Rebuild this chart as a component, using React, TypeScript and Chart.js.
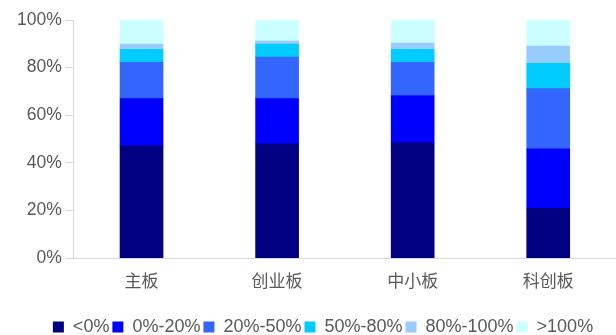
import React, { useEffect, useRef } from "react";
import { Chart, registerables } from "chart.js";

Chart.register(...registerables);

// Boards on the x axis
const boards = ["主板", "创业板", "中小板", "科创板"];

// Share of companies (%) in each growth bucket, per board
const bucketLabels = ["<0%", "0%-20%", "20%-50%", "50%-80%", "80%-100%", ">100%"];
const below0 = [47.1, 48.0, 48.4, 20.9];
const g0to20 = [19.9, 19.0, 19.9, 25.0];
const g20to50 = [15.2, 17.4, 13.9, 25.3];
const g50to80 = [5.5, 5.5, 5.5, 10.6];
const g80to100 = [2.2, 1.2, 2.6, 7.2];
const above100 = [10.1, 8.9, 9.7, 11.0];

const bucketColors = ["#000080", "#0000FF", "#3366FF", "#00CCFF", "#99CCFF", "#CCFFFF"];

const yTicks = [0, 20, 40, 60, 80, 100];

// Nudges the legend row sideways after layout
const legendShift = {
  id: "legendShift",
  afterLayout(chart: any) {
    const lg = chart.legend;
    if (!lg) return;
    lg.left += 8.5;
    lg.right += 8.5;
  },
};

export default function App() {
  const canvasRef = useRef<HTMLCanvasElement | null>(null);

  useEffect(() => {
    const canvas = canvasRef.current;
    if (!canvas) return;
    const series = [below0, g0to20, g20to50, g50to80, g80to100, above100];
    const chart = new Chart(canvas, {
      type: "bar",
      data: {
        labels: boards,
        datasets: series.map((values, i) => ({
          label: bucketLabels[i],
          data: values,
          backgroundColor: bucketColors[i],
          borderWidth: 0,
          barThickness: 43,
        })),
      },
      plugins: [legendShift],
      options: {
        responsive: false,
        animation: false,
        layout: { padding: { left: 13, right: 0, top: 20, bottom: -11 } },
        plugins: {
          tooltip: { enabled: false },
          legend: {
            position: "bottom",
            labels: {
              boxWidth: 11,
              boxHeight: 11,
              padding: 3,
              color: "#595959",
              font: { family: "'Liberation Sans', Arial, sans-serif", size: 18 },
            },
          },
        },
        scales: {
          x: {
            stacked: true,
            grid: { display: false, drawTicks: false },
            border: { display: true, color: "#d9d9d9", width: 1 },
            ticks: {
              padding: 12,
              color: "#595959",
              font: { family: "'Noto Sans CJK SC', sans-serif", size: 17 },
            },
            afterFit: (scale: any) => {
              scale.height += 12.5;
            },
          },
          y: {
            stacked: true,
            min: 0,
            max: 100,
            afterBuildTicks: (scale: any) => {
              scale.ticks = yTicks.map((v) => ({ value: v }));
            },
            grid: {
              display: true,
              drawOnChartArea: false,
              drawTicks: true,
              tickLength: 8,
              color: "#d9d9d9",
            },
            border: { display: true, color: "#d9d9d9", width: 1 },
            ticks: {
              padding: 4,
              color: "#595959",
              font: { family: "'Liberation Sans', Arial, sans-serif", size: 17.5 },
              callback: (v: any) => `${v}%`,
            },
          },
        },
      },
    });
    return () => chart.destroy();
  }, []);

  return (
    <div style={{ position: "fixed", left: 0, top: 0, width: 616, height: 335, background: "#fff" }}>
      <canvas ref={canvasRef} width={616} height={335} />
    </div>
  );
}
